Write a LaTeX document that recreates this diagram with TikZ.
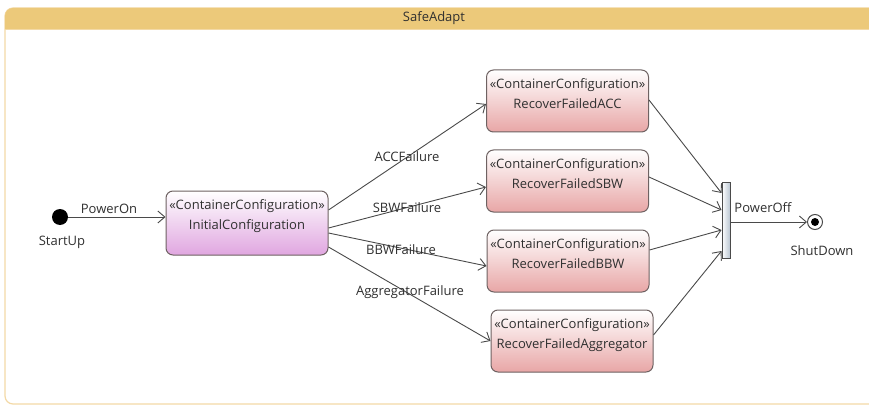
\documentclass[tikz,border=0pt]{standalone}
\usepackage{fontspec}
\setmainfont{Open Sans}
\usetikzlibrary{arrows.meta,calc}
\definecolor{headfill}{HTML}{ECC97A}
\definecolor{frameline}{HTML}{F3D9A6}
\definecolor{boxline}{HTML}{6E6262}
\definecolor{pinkfill}{HTML}{E8A6A6}
\definecolor{violetfill}{HTML}{E0A6E0}
\definecolor{barfill}{HTML}{B9C5D1}
\definecolor{edgecol}{HTML}{4A4A4A}
\definecolor{txt}{HTML}{303030}
\begin{document}
\begin{tikzpicture}[x=1pt,y=-1pt,
  every node/.style={font=\fontsize{13}{19.5}\selectfont, text=txt},
  statebox/.style={draw=boxline, line width=1pt, rounded corners=7pt,
    minimum width=162pt, minimum height=62pt, inner sep=0pt},
  recoverbox/.style={statebox, top color=white, bottom color=pinkfill},
  initbox/.style={statebox, minimum height=64pt, top color=white, bottom color=violetfill},
  boxtext/.style={align=center, inner sep=0pt, anchor=north},
  edgelabel/.style={inner sep=1pt},
  trans/.style={draw=edgecol, line width=0.9pt, -{Straight Barb[length=7pt,width=12pt,line width=0.9pt]}}
]
\useasboundingbox (0,0) rectangle (869,406);

% enclosing state machine frame with its title band
\begin{scope}
  \clip (0,0) rectangle (869,406);
  \draw[frameline, line width=1.2pt, fill=white, rounded corners=8pt] (5,8) rectangle (880,404);
  \fill[headfill, rounded corners=8pt] (5,8) -- (880,8) -- (880,29) -- (5,29) -- cycle;
  \fill[headfill] (5,18) rectangle (880,29);
  \draw[frameline, line width=0.8pt] (5,29) -- (880,29);
\end{scope}
\node (title) at (434,18) {SafeAdapt};

% pseudo states
\fill (60,217) circle (8pt);
\node[circle, minimum size=16pt, inner sep=0pt] (startnode) at (60,217) {};
\node (startlbl) at (62,242) {StartUp};

\node[circle, draw=edgecol, line width=1pt, minimum size=15pt, inner sep=0pt] (final) at (815,222) {};
\fill (final.center) circle (4pt);
\node (finallbl) at (822,251) {ShutDown};

% configuration states
\node[initbox] (init) at (247,223) {};
\node[boxtext] (inittext) at ($(init.north)+(0,9)$) {«ContainerConfiguration»\\InitialConfiguration};

\node[recoverbox] (acc) at (567.5,101) {};
\node[boxtext] (acctext) at ($(acc.north)+(0,9)$) {«ContainerConfiguration»\\RecoverFailedACC};

\node[recoverbox] (sbw) at (567.5,181) {};
\node[boxtext] (sbwtext) at ($(sbw.north)+(0,9)$) {«ContainerConfiguration»\\RecoverFailedSBW};

\node[recoverbox] (bbw) at (568,261) {};
\node[boxtext] (bbwtext) at ($(bbw.north)+(0,9)$) {«ContainerConfiguration»\\RecoverFailedBBW};

\node[recoverbox] (agg) at (572,341) {};
\node[boxtext] (aggtext) at ($(agg.north)+(0,9)$) {«ContainerConfiguration»\\RecoverFailedAggregator};

% join bar
\node[draw=edgecol, line width=1pt, left color=white, right color=barfill,
      minimum width=8pt, minimum height=76pt, inner sep=0pt] (fork) at (726,220) {};
\node (forklbl) at (763,208) {PowerOff};

% transitions
\draw[trans] (startnode) -- (init.west |- startnode);
\node[edgelabel] (poweron) at (109,209) {PowerOn};

\draw[trans] ($(init.east)+(0,-13)$) -- ($(acc.west)+(0,3)$);
\draw[trans] ($(init.east)+(0,5)$) -- ($(sbw.west)+(0,6)$);
\draw[trans] ($(init.east)+(0,10)$) -- ($(bbw.west)+(0,5)$);
\draw[trans] ($(init.east)+(0,24)$) -- (agg.west);
\node[edgelabel] (acclbl) at (407,157) {ACCFailure};
\node[edgelabel] (sbwlbl) at (407,208) {SBWFailure};
\node[edgelabel] (bbwlbl) at (401,250) {BBWFailure};
\node[edgelabel] (agglbl) at (410,292) {AggregatorFailure};

\draw[trans] ($(acc.east)+(0,-1)$) -- ($(fork.west)+(0,-27)$);
\draw[trans] ($(sbw.east)+(0,-4)$) -- ($(fork.west)+(0,-10)$);
\draw[trans] ($(bbw.east)+(0,-11)$) -- ($(fork.west)+(0,10)$);
\draw[trans] ($(agg.east)+(0,-6)$) -- ($(fork.west)+(0,31)$);

\draw[trans] (fork.east |- final) -- (final);
\end{tikzpicture}
\end{document}
